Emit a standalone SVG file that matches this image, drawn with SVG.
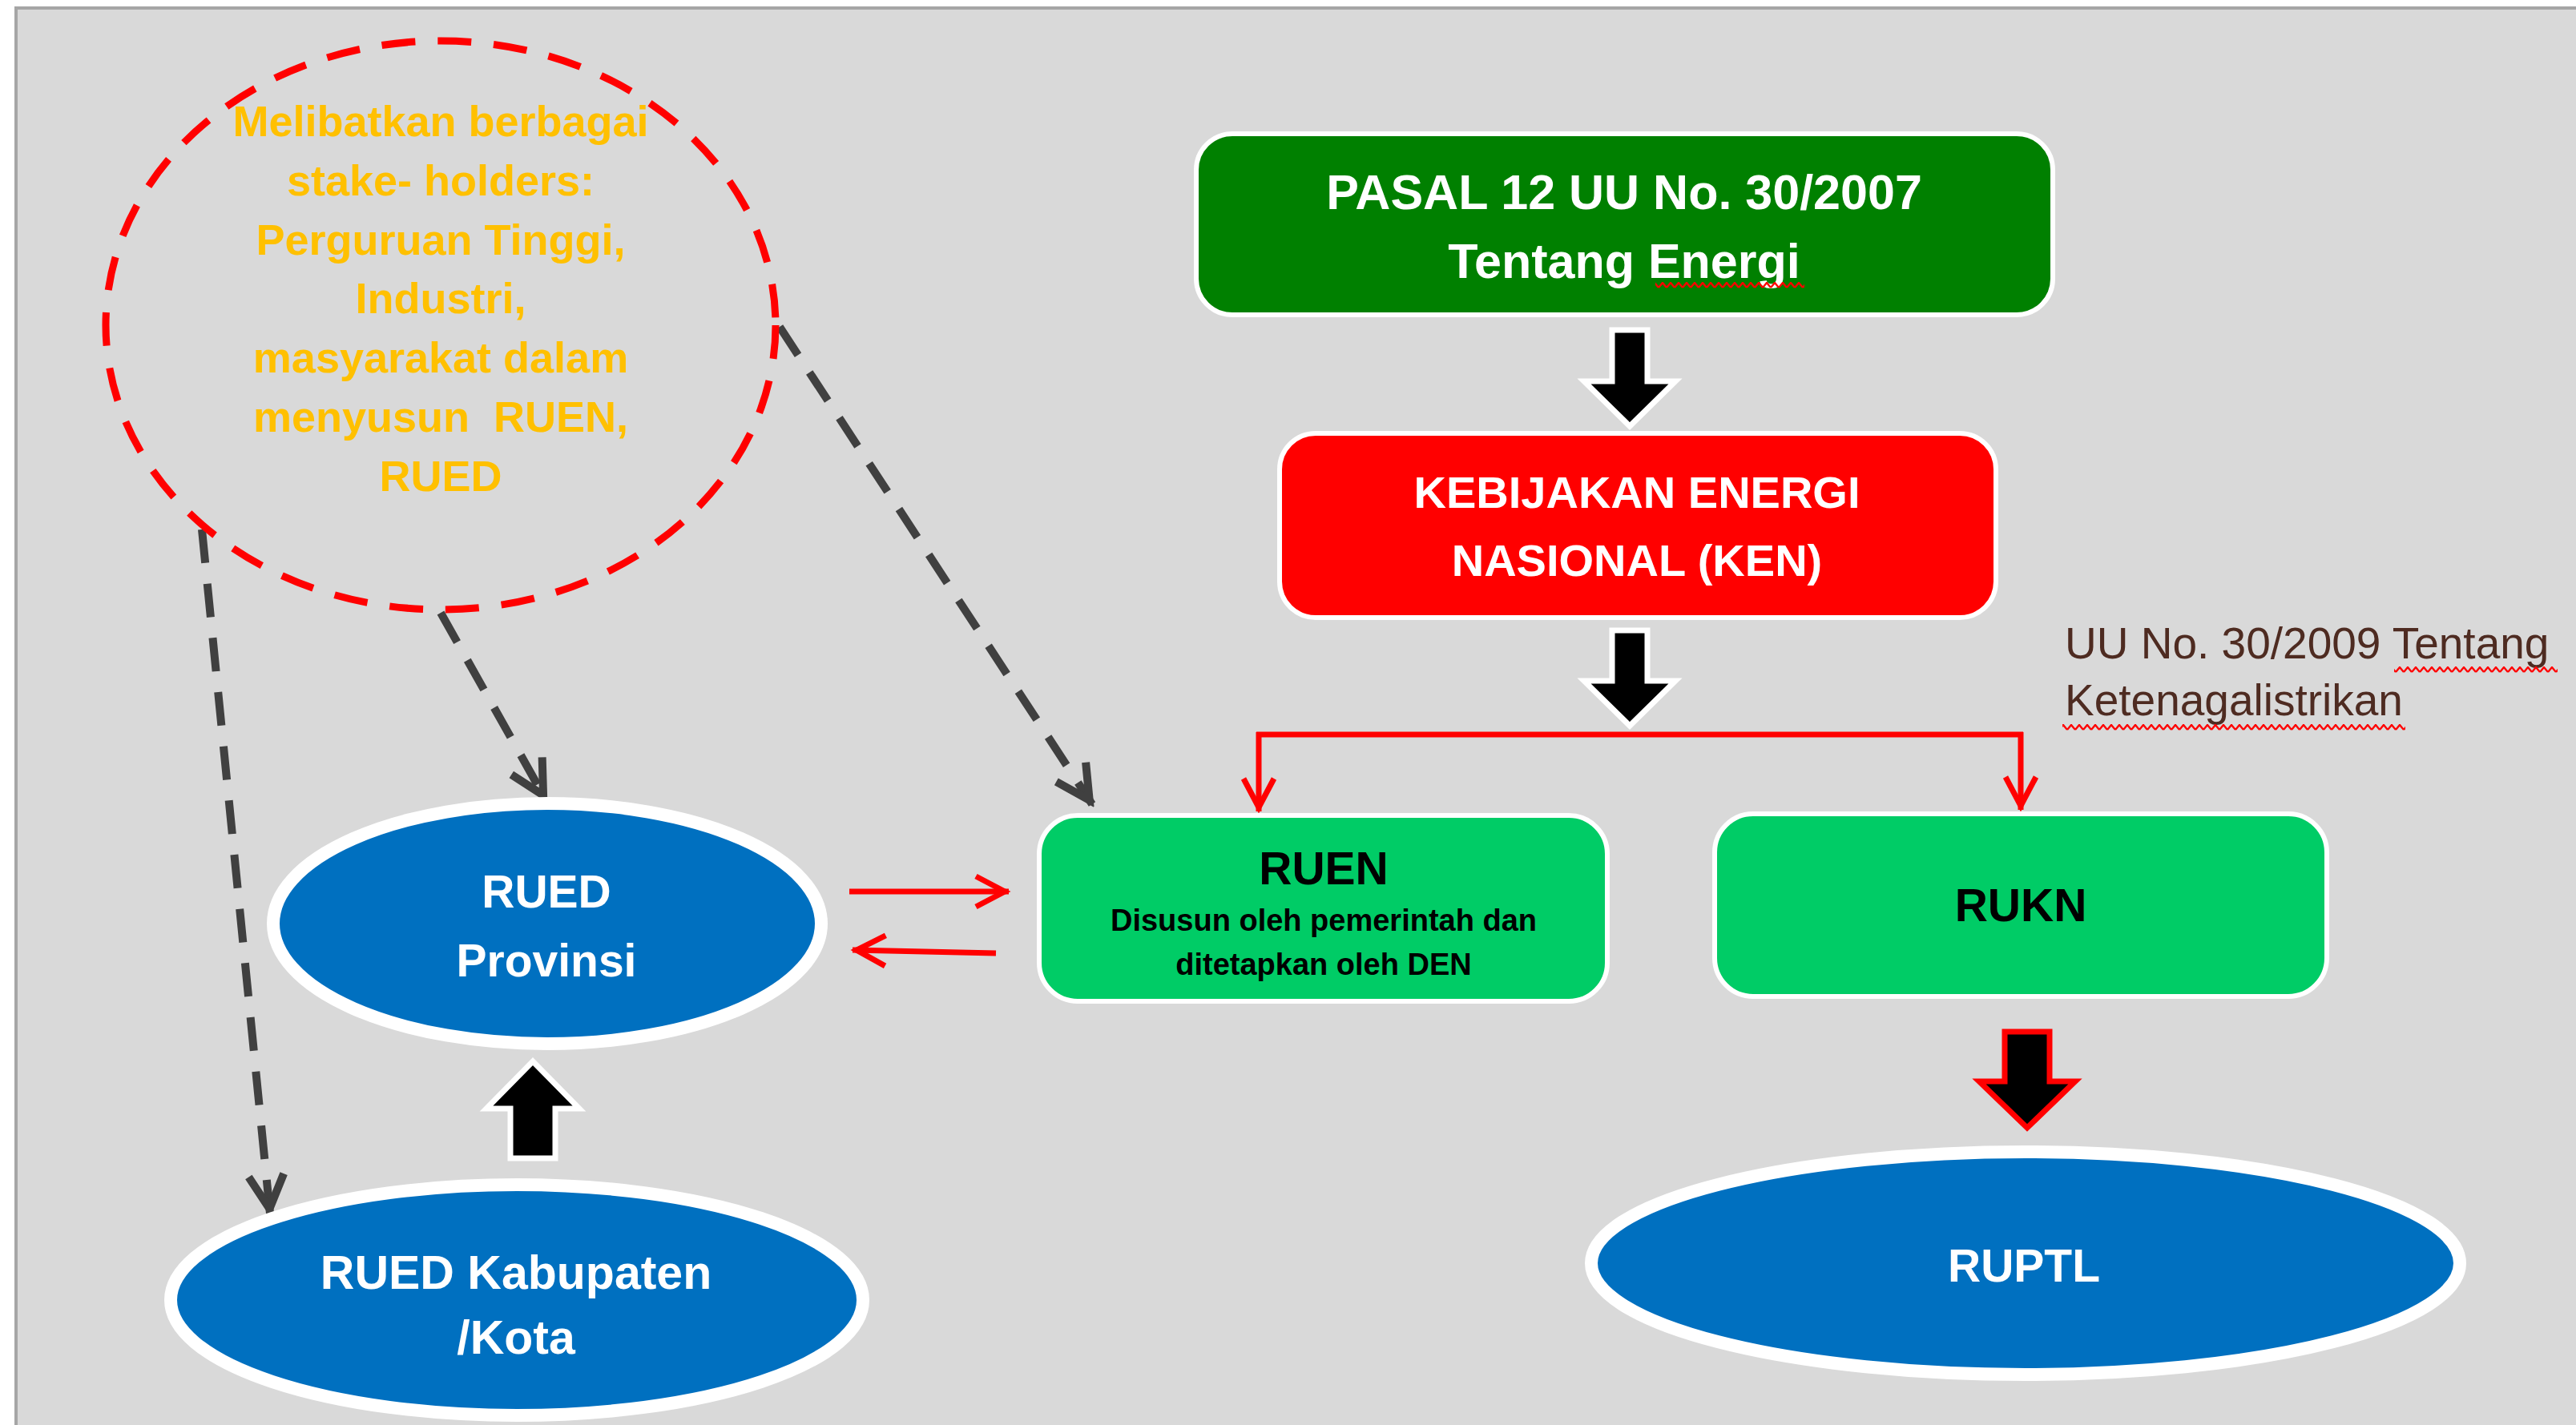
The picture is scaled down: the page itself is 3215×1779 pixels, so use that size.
<svg xmlns="http://www.w3.org/2000/svg" width="3215" height="1779" viewBox="0 0 3215 1779">
<defs>
<style>
.t{font-family:"Liberation Sans",Arial,sans-serif;font-weight:bold;text-anchor:middle}
.w{fill:#FFFFFF}
.k{fill:#000000}
.o{fill:#FFC000;font-size:54px}
.box{stroke:#FFFFFF;stroke-width:6}
.ell{fill:#0070C0;stroke:#FFFFFF;stroke-width:16}
.dash{fill:none;stroke:#404040;stroke-width:10;stroke-dasharray:42 26}
.red{fill:none;stroke:#FF0000;stroke-width:7}
.blk{fill:#000000;stroke:#FFFFFF;stroke-width:7}
.sq{fill:url(#sq)}
</style>
<pattern id="sq" width="10" height="8" patternUnits="userSpaceOnUse"><path d="M0,7 L5,1 L10,7" fill="none" stroke="#FF0000" stroke-width="2.4"/></pattern>
<marker id="ga" markerUnits="userSpaceOnUse" viewBox="-60 -35 70 70" markerWidth="70" markerHeight="70" refX="6" refY="0" orient="auto"><path d="M-42,-22 L0,0 L-42,22" fill="none" stroke="#404040" stroke-width="10"/></marker>
<marker id="ra" markerUnits="userSpaceOnUse" viewBox="-50 -30 60 60" markerWidth="60" markerHeight="60" refX="5" refY="0" orient="auto"><path d="M-36,-19 L0,0 L-36,19" fill="none" stroke="#FF0000" stroke-width="7"/></marker>
</defs>
<rect x="0" y="0" width="3215" height="1779" fill="#FFFFFF"/>
<rect x="20" y="10" width="3400" height="1900" fill="#D9D9D9" stroke="#A6A6A6" stroke-width="4"/>

<g id="connectors">
<path class="dash" d="M252,661 L337,1515" marker-end="url(#ga)"/>
<path class="dash" d="M550,765 L681,998" marker-end="url(#ga)"/>
<path class="dash" d="M973,408 L1363,1004" marker-end="url(#ga)"/>
<path class="red" d="M1568,917 H2525"/>
<path class="red" d="M1571,914 V1013" marker-end="url(#ra)"/>
<path class="red" d="M2522,914 V1011" marker-end="url(#ra)"/>
<path class="red" d="M1060,1113 H1259" marker-end="url(#ra)"/>
<path class="red" d="M1243,1190 L1064,1186" marker-end="url(#ra)"/>
<polygon id="arrow-pasal-ken" class="blk" points="2012,412 2056,412 2056,476 2091,476 2034,532 1977,476 2012,476"/>
<polygon id="arrow-ken-split" class="blk" points="2012,787 2056,787 2056,850 2091,850 2034,906 1977,850 2012,850"/>
<polygon id="arrow-kab-prov" class="blk" points="637,1446 693,1446 693,1384 723,1384 665,1325 607,1384 637,1384"/>
<polygon id="arrow-rukn-ruptl" points="2502,1288 2558,1288 2558,1350 2590,1350 2530,1408 2470,1350 2502,1350" fill="#000000" stroke="#FF0000" stroke-width="7"/>
</g>

<g id="stakeholders">
<ellipse cx="550" cy="406" rx="418" ry="355" fill="none" stroke="#FF0000" stroke-width="9" stroke-dasharray="42 28"/>
<text class="t o" x="550" y="170">Melibatkan berbagai</text>
<text class="t o" x="550" y="244">stake- holders:</text>
<text class="t o" x="550" y="318">Perguruan Tinggi,</text>
<text class="t o" x="550" y="391">Industri,</text>
<text class="t o" x="550" y="465">masyarakat dalam</text>
<text class="t o" x="550" y="539" xml:space="preserve">menyusun  RUEN,</text>
<text class="t o" x="550" y="613">RUED</text>
</g>

<g id="pasal">
<rect class="box" x="1493" y="167" width="1069" height="226" rx="45" fill="#008000"/>
<text class="t w" x="2027" y="261" font-size="61">PASAL 12 UU No. 30/2007</text>
<text class="t w" x="2027" y="347" font-size="61">Tentang Energi</text>
<rect class="sq" x="2066" y="352" width="186" height="8"/>
</g>

<g id="ken">
<rect class="box" x="1597" y="541" width="894" height="230" rx="45" fill="#FF0000"/>
<text class="t w" x="2043" y="634" font-size="56">KEBIJAKAN ENERGI</text>
<text class="t w" x="2043" y="719" font-size="56">NASIONAL (KEN)</text>
</g>

<g id="uu-label">
<text x="2577" y="822" font-family="Liberation Sans, Arial, sans-serif" font-size="55" fill="#4E2B21">UU No. 30/2009 Tentang</text>
<text x="2577" y="893" font-family="Liberation Sans, Arial, sans-serif" font-size="55" fill="#4E2B21">Ketenagalistrikan</text>
<rect class="sq" x="2988" y="832" width="204" height="8"/>
<rect class="sq" x="2574" y="904" width="428" height="8"/>
</g>

<g id="ruen">
<rect class="box" x="1297" y="1018" width="709" height="232" rx="48" fill="#00CC66"/>
<text class="t k" x="1652" y="1104" font-size="57">RUEN</text>
<text class="t k" x="1652" y="1162" font-size="38">Disusun oleh pemerintah dan</text>
<text class="t k" x="1652" y="1217" font-size="38">ditetapkan oleh DEN</text>
</g>

<g id="rukn">
<rect class="box" x="2140" y="1016" width="764" height="228" rx="48" fill="#00CC66"/>
<text class="t k" x="2522" y="1150" font-size="57">RUKN</text>
</g>

<g id="rued-provinsi">
<ellipse class="ell" cx="683" cy="1153" rx="342" ry="150"/>
<text class="t w" x="682" y="1133" font-size="57">RUED</text>
<text class="t w" x="682" y="1219" font-size="57">Provinsi</text>
</g>

<g id="rued-kabupaten">
<ellipse class="ell" cx="645" cy="1623" rx="432" ry="144"/>
<text class="t w" x="644" y="1609" font-size="59">RUED Kabupaten</text>
<text class="t w" x="644" y="1690" font-size="59">/Kota</text>
</g>

<g id="ruptl">
<ellipse class="ell" cx="2528" cy="1577" rx="542" ry="139"/>
<text class="t w" x="2526" y="1600" font-size="57">RUPTL</text>
</g>
</svg>
